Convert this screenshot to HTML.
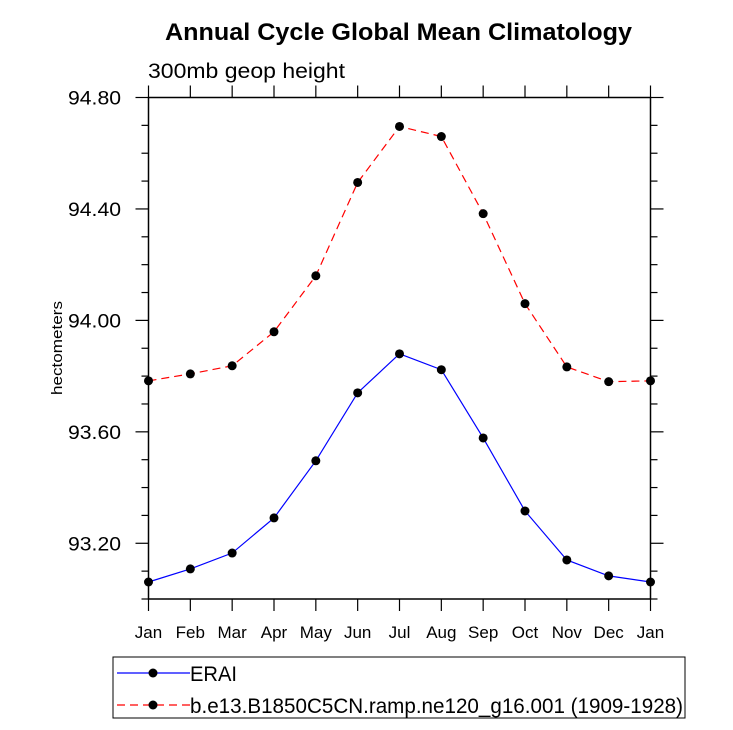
<!DOCTYPE html>
<html><head><meta charset="utf-8"><style>
body{margin:0;background:#fff}
svg{display:block;font-family:"Liberation Sans",Arial,sans-serif}
</style></head><body>
<svg id="c" width="733" height="730">
<text x="165" y="40" textLength="467" lengthAdjust="spacingAndGlyphs" font-size="24" font-weight="bold">Annual Cycle Global Mean Climatology</text>
<text x="148" y="78" textLength="197" lengthAdjust="spacingAndGlyphs" font-size="21">300mb geop height</text>
<text transform="translate(62,348) rotate(-90)" text-anchor="middle" textLength="94" lengthAdjust="spacingAndGlyphs" font-size="15">hectometers</text>
<g id="axes"></g><g id="series"></g>
<rect x="113" y="657" width="572" height="61" fill="none" stroke="#000" stroke-width="1"/>
<g>
<line x1="117" y1="673" x2="190" y2="673" stroke="#00f" stroke-width="1.2"/>
<circle cx="153" cy="673" r="4.5" fill="#000"/>
<text x="190" y="681" font-size="21" textLength="47" lengthAdjust="spacingAndGlyphs">ERAI</text></g>
<g>
<line x1="117" y1="705" x2="190" y2="705" stroke="#f00" stroke-width="1.2" stroke-dasharray="8,5"/>
<circle cx="153" cy="705" r="4.5" fill="#000"/>
<text x="190" y="713" font-size="21" textLength="493" lengthAdjust="spacingAndGlyphs">b.e13.B1850C5CN.ramp.ne120_g16.001 (1909-1928)</text></g>
</svg>
<script>
const months=["Jan","Feb","Mar","Apr","May","Jun","Jul","Aug","Sep","Oct","Nov","Dec","Jan"];
const erai=[93.061,93.108,93.165,93.291,93.496,93.740,93.880,93.823,93.578,93.316,93.140,93.083,93.061];
const model=[93.783,93.808,93.837,93.959,94.160,94.495,94.696,94.660,94.383,94.060,93.833,93.780,93.783];
const yTicks=[93.2,93.6,94.0,94.4,94.8];
const yTickLabels=["93.20","93.60","94.00","94.40","94.80"];
const L=148.5,R=650.5,T=97.5,B=599,ymin=93.0,ymax=94.8;
const NS="http://www.w3.org/2000/svg";
const x=i=>L+(R-L)*i/(months.length-1);
const y=v=>B-(v-ymin)/(ymax-ymin)*(B-T);
function mk(t,a,p){const e=document.createElementNS(NS,t);for(const k in a)e.setAttribute(k,a[k]);p.appendChild(e);return e;}
const ax=document.getElementById('axes'),sg=document.getElementById('series');
const frame=mk('rect',{x:L,y:T,width:R-L,height:B-T,fill:'none',stroke:'#000','stroke-width':1.5},ax);


months.forEach((m,i)=>{
 mk('line',{x1:x(i),y1:B,x2:x(i),y2:B+12,stroke:'#000','stroke-width':1.2},ax);
 mk('line',{x1:x(i),y1:T,x2:x(i),y2:T-12,stroke:'#000','stroke-width':1.2},ax);
 const t=mk('text',{x:x(i),y:638,'text-anchor':'middle','font-size':17},ax);t.textContent=m;
 
 
});
for(let v=93.0;v<=94.801;v+=0.1){
 const yy=y(v);const major=yTicks.some(t=>Math.abs(t-v)<1e-6);const len=major?13:7;
 mk('line',{x1:L,y1:yy,x2:L-len,y2:yy,stroke:'#000','stroke-width':1.2},ax);
 mk('line',{x1:R,y1:yy,x2:R+len,y2:yy,stroke:'#000','stroke-width':1.2},ax);
}
yTicks.forEach((v,i)=>{
 const t=mk('text',{x:121,y:y(v)+7,'text-anchor':'end','font-size':19,textLength:53,lengthAdjust:'spacingAndGlyphs'},ax);t.textContent=yTickLabels[i];
 
 
});
function series(d,col,dash,name){
 const p=mk('polyline',{points:d.map((v,i)=>x(i)+','+y(v)).join(' '),fill:'none',stroke:col,'stroke-width':1.2,'stroke-dasharray':dash},sg);
 
 
 d.forEach((v,i)=>{const c=mk('circle',{cx:x(i),cy:y(v),r:4.5,fill:'#000'},sg);
  
  });
}
series(erai,'#00f','none','erai');
series(model,'#f00','8,5','model');
</script>
</body></html>
